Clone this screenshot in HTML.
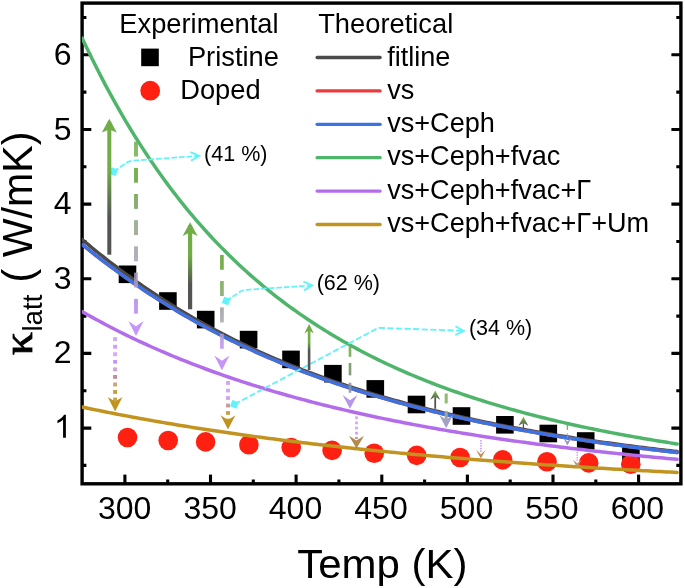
<!DOCTYPE html>
<html><head><meta charset="utf-8"><title>chart</title>
<style>html,body{margin:0;padding:0;background:#fff}body{width:685px;height:588px;position:relative;overflow:hidden;font-family:"Liberation Sans",sans-serif}</style></head>
<body>
<svg width="685" height="588" viewBox="0 0 685 588" style="position:absolute;left:0;top:0;will-change:transform">
<defs><clipPath id="pc"><rect x="81.9" y="3.1" width="604.3" height="480.7"/></clipPath>
<linearGradient id="gu0" gradientUnits="userSpaceOnUse" x1="0" y1="118.8" x2="0" y2="254.7"><stop offset="0.000" stop-color="#70ad47"/><stop offset="0.380" stop-color="#70ad47"/><stop offset="0.720" stop-color="#545454"/><stop offset="1.000" stop-color="#545454"/></linearGradient><linearGradient id="gu1" gradientUnits="userSpaceOnUse" x1="0" y1="222.2" x2="0" y2="309.3"><stop offset="0.000" stop-color="#70ad47"/><stop offset="0.380" stop-color="#70ad47"/><stop offset="0.720" stop-color="#545454"/><stop offset="1.000" stop-color="#545454"/></linearGradient><linearGradient id="gu2" gradientUnits="userSpaceOnUse" x1="0" y1="324.1" x2="0" y2="370.0"><stop offset="0.000" stop-color="#70ad47"/><stop offset="0.400" stop-color="#70ad47"/><stop offset="0.580" stop-color="#545454"/><stop offset="1.000" stop-color="#545454"/></linearGradient><linearGradient id="gu3" gradientUnits="userSpaceOnUse" x1="0" y1="390.5" x2="0" y2="408.8"><stop offset="0.000" stop-color="#70ad47"/><stop offset="0.120" stop-color="#70ad47"/><stop offset="0.500" stop-color="#545454"/><stop offset="1.000" stop-color="#545454"/></linearGradient><linearGradient id="gu4" gradientUnits="userSpaceOnUse" x1="0" y1="416.7" x2="0" y2="429.2"><stop offset="0.000" stop-color="#70ad47"/><stop offset="0.150" stop-color="#70ad47"/><stop offset="0.700" stop-color="#545454"/><stop offset="1.000" stop-color="#545454"/></linearGradient></defs>
<rect width="685" height="588" fill="#fff"/>
<g fill="#000">
<rect x="118.7" y="265.5" width="17.6" height="17.6"/>
<rect x="159.1" y="292.2" width="17.6" height="17.6"/>
<rect x="196.9" y="310.8" width="17.6" height="17.6"/>
<rect x="239.8" y="330.8" width="17.6" height="17.6"/>
<rect x="282.2" y="350.6" width="17.6" height="17.6"/>
<rect x="324.1" y="364.9" width="17.6" height="17.6"/>
<rect x="366.5" y="380.1" width="17.6" height="17.6"/>
<rect x="407.7" y="395.7" width="17.6" height="17.6"/>
<rect x="452.7" y="407.2" width="17.6" height="17.6"/>
<rect x="496.1" y="416.0" width="17.6" height="17.6"/>
<rect x="539.5" y="424.7" width="17.6" height="17.6"/>
<rect x="576.9" y="432.2" width="17.6" height="17.6"/>
<rect x="622.1" y="446.2" width="17.6" height="17.6"/>
</g><g fill="#fe2010">
<circle cx="127.5" cy="437.5" r="9.8"/>
<circle cx="168.2" cy="440.5" r="9.8"/>
<circle cx="205.6" cy="441.9" r="9.8"/>
<circle cx="248.9" cy="444.7" r="9.8"/>
<circle cx="291.2" cy="447.5" r="9.8"/>
<circle cx="332.1" cy="450.4" r="9.8"/>
<circle cx="374.2" cy="453.3" r="9.8"/>
<circle cx="416.7" cy="455.4" r="9.8"/>
<circle cx="460.1" cy="457.5" r="9.8"/>
<circle cx="502.7" cy="459.9" r="9.8"/>
<circle cx="547.0" cy="461.8" r="9.8"/>
<circle cx="588.7" cy="462.9" r="9.8"/>
<circle cx="630.8" cy="464.3" r="9.8"/>
</g>
<g stroke="#000" stroke-width="3.1" fill="none">
<path d="M82.1,465.4 h4.3 M680.9,465.4 h-4.6"/>
<path d="M82.1,428.1 h9.2 M680.9,428.1 h-9.5"/>
<path d="M82.1,390.8 h4.3 M680.9,390.8 h-4.6"/>
<path d="M82.1,353.4 h9.2 M680.9,353.4 h-9.5"/>
<path d="M82.1,316.1 h4.3 M680.9,316.1 h-4.6"/>
<path d="M82.1,278.8 h9.2 M680.9,278.8 h-9.5"/>
<path d="M82.1,241.5 h4.3 M680.9,241.5 h-4.6"/>
<path d="M82.1,204.1 h9.2 M680.9,204.1 h-9.5"/>
<path d="M82.1,166.8 h4.3 M680.9,166.8 h-4.6"/>
<path d="M82.1,129.5 h9.2 M680.9,129.5 h-9.5"/>
<path d="M82.1,92.1 h4.3 M680.9,92.1 h-4.6"/>
<path d="M82.1,54.8 h9.2 M680.9,54.8 h-9.5"/>
<path d="M82.1,17.5 h4.3 M680.9,17.5 h-4.6"/>
<path d="M124.9,483.8 v-9.2"/>
<path d="M167.7,483.8 v-4.3"/>
<path d="M210.5,483.8 v-9.2"/>
<path d="M253.3,483.8 v-4.3"/>
<path d="M296.1,483.8 v-9.2"/>
<path d="M338.9,483.8 v-4.3"/>
<path d="M381.8,483.8 v-9.2"/>
<path d="M424.6,483.8 v-4.3"/>
<path d="M467.4,483.8 v-9.2"/>
<path d="M510.2,483.8 v-4.3"/>
<path d="M553.0,483.8 v-9.2"/>
<path d="M595.8,483.8 v-4.3"/>
<path d="M638.6,483.8 v-9.2"/>
</g>
<rect x="82.1" y="3.1" width="598.8" height="480.7" fill="none" stroke="#000" stroke-width="3.4"/>
<g clip-path="url(#pc)" fill="none" stroke-width="3.5" stroke-linejoin="round" stroke-linecap="round">
<path d="M82.10,239.53 L85.50,242.38 L88.90,245.21 L92.30,248.01 L95.70,250.77 L99.10,253.51 L102.50,256.21 L105.90,258.89 L109.30,261.53 L112.70,264.15 L116.10,266.73 L119.50,269.29 L122.90,271.82 L126.30,274.31 L129.70,276.78 L133.10,279.22 L136.50,281.63 L139.90,284.01 L143.30,286.37 L146.70,288.69 L150.10,290.99 L153.50,293.26 L156.90,295.51 L160.30,297.73 L163.70,299.92 L167.10,302.08 L170.50,304.22 L173.90,306.33 L177.30,308.42 L180.70,310.48 L184.10,312.52 L187.50,314.53 L190.90,316.52 L194.30,318.48 L197.70,320.42 L201.10,322.34 L204.50,324.23 L207.90,326.10 L211.30,327.94 L214.70,329.77 L218.10,331.57 L221.50,333.35 L224.90,335.10 L228.30,336.84 L231.70,338.55 L235.10,340.25 L238.51,341.92 L241.91,343.57 L245.31,345.20 L248.71,346.81 L252.11,348.40 L255.51,349.98 L258.91,351.53 L262.31,353.06 L265.71,354.58 L269.11,356.07 L272.51,357.55 L275.91,359.01 L279.31,360.45 L282.71,361.88 L286.11,363.29 L289.51,364.68 L292.91,366.05 L296.31,367.41 L299.71,368.74 L303.11,370.07 L306.51,371.38 L309.91,372.67 L313.31,373.94 L316.71,375.20 L320.11,376.45 L323.51,377.68 L326.91,378.89 L330.31,380.09 L333.71,381.28 L337.11,382.45 L340.51,383.61 L343.91,384.75 L347.31,385.88 L350.71,387.00 L354.11,388.10 L357.51,389.19 L360.91,390.27 L364.31,391.33 L367.71,392.38 L371.11,393.42 L374.51,394.45 L377.91,395.46 L381.31,396.47 L384.71,397.46 L388.11,398.44 L391.51,399.40 L394.91,400.36 L398.31,401.30 L401.71,402.24 L405.11,403.16 L408.51,404.07 L411.91,404.97 L415.31,405.86 L418.71,406.75 L422.11,407.62 L425.51,408.48 L428.91,409.33 L432.31,410.17 L435.71,411.00 L439.11,411.82 L442.51,412.63 L445.91,413.43 L449.31,414.23 L452.71,415.01 L456.11,415.79 L459.51,416.55 L462.91,417.31 L466.31,418.06 L469.71,418.80 L473.11,419.53 L476.51,420.26 L479.91,420.97 L483.31,421.68 L486.71,422.38 L490.11,423.08 L493.51,423.76 L496.91,424.44 L500.31,425.11 L503.71,425.77 L507.11,426.42 L510.51,427.07 L513.91,427.71 L517.31,428.34 L520.71,428.97 L524.11,429.59 L527.51,430.20 L530.91,430.81 L534.31,431.41 L537.71,432.00 L541.11,432.59 L544.51,433.17 L547.92,433.74 L551.32,434.31 L554.72,434.87 L558.12,435.43 L561.52,435.97 L564.92,436.52 L568.32,437.06 L571.72,437.59 L575.12,438.11 L578.52,438.63 L581.92,439.15 L585.32,439.66 L588.72,440.16 L592.12,440.66 L595.52,441.16 L598.92,441.65 L602.32,442.13 L605.72,442.61 L609.12,443.08 L612.52,443.55 L615.92,444.01 L619.32,444.47 L622.72,444.93 L626.12,445.37 L629.52,445.82 L632.92,446.26 L636.32,446.70 L639.72,447.13 L643.12,447.55 L646.52,447.98 L649.92,448.39 L653.32,448.81 L656.72,449.22 L660.12,449.62 L663.52,450.02 L666.92,450.42 L670.32,450.81 L673.72,451.20 L677.12,451.59" stroke="#4a4a4a"/>
<path d="M82.10,244.52 L85.50,247.26 L88.90,249.98 L92.30,252.67 L95.70,255.33 L99.10,257.96 L102.50,260.56 L105.90,263.14 L109.30,265.69 L112.70,268.21 L116.10,270.71 L119.50,273.17 L122.90,275.62 L126.30,278.03 L129.70,280.42 L133.10,282.78 L136.50,285.12 L139.90,287.42 L143.30,289.71 L146.70,291.96 L150.10,294.20 L153.50,296.40 L156.90,298.58 L160.30,300.74 L163.70,302.87 L167.10,304.97 L170.50,307.06 L173.90,309.11 L177.30,311.15 L180.70,313.15 L184.10,315.14 L187.50,317.10 L190.90,319.04 L194.30,320.96 L197.70,322.85 L201.10,324.72 L204.50,326.57 L207.90,328.40 L211.30,330.21 L214.70,331.99 L218.10,333.75 L221.50,335.49 L224.90,337.21 L228.30,338.92 L231.70,340.59 L235.10,342.25 L238.51,343.89 L241.91,345.52 L245.31,347.12 L248.71,348.70 L252.11,350.26 L255.51,351.80 L258.91,353.33 L262.31,354.84 L265.71,356.33 L269.11,357.80 L272.51,359.25 L275.91,360.69 L279.31,362.11 L282.71,363.51 L286.11,364.89 L289.51,366.26 L292.91,367.61 L296.31,368.95 L299.71,370.27 L303.11,371.58 L306.51,372.86 L309.91,374.14 L313.31,375.40 L316.71,376.64 L320.11,377.87 L323.51,379.08 L326.91,380.28 L330.31,381.47 L333.71,382.64 L337.11,383.80 L340.51,384.94 L343.91,386.07 L347.31,387.19 L350.71,388.29 L354.11,389.38 L357.51,390.46 L360.91,391.52 L364.31,392.58 L367.71,393.62 L371.11,394.65 L374.51,395.66 L377.91,396.67 L381.31,397.66 L384.71,398.64 L388.11,399.61 L391.51,400.57 L394.91,401.51 L398.31,402.45 L401.71,403.38 L405.11,404.29 L408.51,405.20 L411.91,406.09 L415.31,406.97 L418.71,407.85 L422.11,408.71 L425.51,409.56 L428.91,410.41 L432.31,411.24 L435.71,412.07 L439.11,412.88 L442.51,413.69 L445.91,414.48 L449.31,415.27 L452.71,416.05 L456.11,416.82 L459.51,417.58 L462.91,418.34 L466.31,419.08 L469.71,419.82 L473.11,420.54 L476.51,421.26 L479.91,421.98 L483.31,422.68 L486.71,423.38 L490.11,424.06 L493.51,424.74 L496.91,425.42 L500.31,426.08 L503.71,426.74 L507.11,427.39 L510.51,428.04 L513.91,428.67 L517.31,429.30 L520.71,429.93 L524.11,430.54 L527.51,431.15 L530.91,431.76 L534.31,432.35 L537.71,432.94 L541.11,433.53 L544.51,434.10 L547.92,434.68 L551.32,435.24 L554.72,435.80 L558.12,436.35 L561.52,436.90 L564.92,437.44 L568.32,437.98 L571.72,438.51 L575.12,439.03 L578.52,439.55 L581.92,440.06 L585.32,440.57 L588.72,441.07 L592.12,441.57 L595.52,442.06 L598.92,442.55 L602.32,443.03 L605.72,443.51 L609.12,443.98 L612.52,444.45 L615.92,444.91 L619.32,445.37 L622.72,445.82 L626.12,446.27 L629.52,446.71 L632.92,447.15 L636.32,447.59 L639.72,448.02 L643.12,448.44 L646.52,448.86 L649.92,449.28 L653.32,449.69 L656.72,450.10 L660.12,450.51 L663.52,450.91 L666.92,451.30 L670.32,451.70 L673.72,452.08 L677.12,452.47" stroke="#ea3b3f"/>
<path d="M82.10,244.52 L85.50,247.26 L88.90,249.98 L92.30,252.67 L95.70,255.33 L99.10,257.96 L102.50,260.56 L105.90,263.14 L109.30,265.69 L112.70,268.21 L116.10,270.71 L119.50,273.17 L122.90,275.62 L126.30,278.03 L129.70,280.42 L133.10,282.78 L136.50,285.12 L139.90,287.42 L143.30,289.71 L146.70,291.96 L150.10,294.20 L153.50,296.40 L156.90,298.58 L160.30,300.74 L163.70,302.87 L167.10,304.97 L170.50,307.06 L173.90,309.11 L177.30,311.15 L180.70,313.15 L184.10,315.14 L187.50,317.10 L190.90,319.04 L194.30,320.96 L197.70,322.85 L201.10,324.72 L204.50,326.57 L207.90,328.40 L211.30,330.21 L214.70,331.99 L218.10,333.75 L221.50,335.49 L224.90,337.21 L228.30,338.92 L231.70,340.59 L235.10,342.25 L238.51,343.89 L241.91,345.52 L245.31,347.12 L248.71,348.70 L252.11,350.26 L255.51,351.80 L258.91,353.33 L262.31,354.84 L265.71,356.33 L269.11,357.80 L272.51,359.25 L275.91,360.69 L279.31,362.11 L282.71,363.51 L286.11,364.89 L289.51,366.26 L292.91,367.61 L296.31,368.95 L299.71,370.27 L303.11,371.58 L306.51,372.86 L309.91,374.14 L313.31,375.40 L316.71,376.64 L320.11,377.87 L323.51,379.08 L326.91,380.28 L330.31,381.47 L333.71,382.64 L337.11,383.80 L340.51,384.94 L343.91,386.07 L347.31,387.19 L350.71,388.29 L354.11,389.38 L357.51,390.46 L360.91,391.52 L364.31,392.58 L367.71,393.62 L371.11,394.65 L374.51,395.66 L377.91,396.67 L381.31,397.66 L384.71,398.64 L388.11,399.61 L391.51,400.57 L394.91,401.51 L398.31,402.45 L401.71,403.38 L405.11,404.29 L408.51,405.20 L411.91,406.09 L415.31,406.97 L418.71,407.85 L422.11,408.71 L425.51,409.56 L428.91,410.41 L432.31,411.24 L435.71,412.07 L439.11,412.88 L442.51,413.69 L445.91,414.48 L449.31,415.27 L452.71,416.05 L456.11,416.82 L459.51,417.58 L462.91,418.34 L466.31,419.08 L469.71,419.82 L473.11,420.54 L476.51,421.26 L479.91,421.98 L483.31,422.68 L486.71,423.38 L490.11,424.06 L493.51,424.74 L496.91,425.42 L500.31,426.08 L503.71,426.74 L507.11,427.39 L510.51,428.04 L513.91,428.67 L517.31,429.30 L520.71,429.93 L524.11,430.54 L527.51,431.15 L530.91,431.76 L534.31,432.35 L537.71,432.94 L541.11,433.53 L544.51,434.10 L547.92,434.68 L551.32,435.24 L554.72,435.80 L558.12,436.35 L561.52,436.90 L564.92,437.44 L568.32,437.98 L571.72,438.51 L575.12,439.03 L578.52,439.55 L581.92,440.06 L585.32,440.57 L588.72,441.07 L592.12,441.57 L595.52,442.06 L598.92,442.55 L602.32,443.03 L605.72,443.51 L609.12,443.98 L612.52,444.45 L615.92,444.91 L619.32,445.37 L622.72,445.82 L626.12,446.27 L629.52,446.71 L632.92,447.15 L636.32,447.59 L639.72,448.02 L643.12,448.44 L646.52,448.86 L649.92,449.28 L653.32,449.69 L656.72,450.10 L660.12,450.51 L663.52,450.91 L666.92,451.30 L670.32,451.70 L673.72,452.08 L677.12,452.47" stroke="#3c73e2"/>
<path d="M82.10,37.98 L85.50,45.21 L88.90,52.30 L92.30,59.26 L95.70,66.08 L99.10,72.78 L102.50,79.35 L105.90,85.81 L109.30,92.14 L112.70,98.35 L116.10,104.45 L119.50,110.43 L122.90,116.31 L126.30,122.08 L129.70,127.74 L133.10,133.30 L136.50,138.76 L139.90,144.11 L143.30,149.37 L146.70,154.54 L150.10,159.61 L153.50,164.59 L156.90,169.48 L160.30,174.29 L163.70,179.00 L167.10,183.64 L170.50,188.19 L173.90,192.66 L177.30,197.05 L180.70,201.36 L184.10,205.60 L187.50,209.77 L190.90,213.86 L194.30,217.88 L197.70,221.83 L201.10,225.71 L204.50,229.52 L207.90,233.27 L211.30,236.95 L214.70,240.58 L218.10,244.13 L221.50,247.63 L224.90,251.07 L228.30,254.45 L231.70,257.78 L235.10,261.04 L238.51,264.26 L241.91,267.42 L245.31,270.52 L248.71,273.58 L252.11,276.58 L255.51,279.53 L258.91,282.44 L262.31,285.30 L265.71,288.11 L269.11,290.87 L272.51,293.59 L275.91,296.27 L279.31,298.90 L282.71,301.49 L286.11,304.03 L289.51,306.54 L292.91,309.01 L296.31,311.43 L299.71,313.82 L303.11,316.17 L306.51,318.49 L309.91,320.76 L313.31,323.00 L316.71,325.21 L320.11,327.38 L323.51,329.52 L326.91,331.62 L330.31,333.69 L333.71,335.73 L337.11,337.74 L340.51,339.72 L343.91,341.67 L347.31,343.58 L350.71,345.47 L354.11,347.33 L357.51,349.16 L360.91,350.97 L364.31,352.74 L367.71,354.49 L371.11,356.21 L374.51,357.91 L377.91,359.58 L381.31,361.23 L384.71,362.86 L388.11,364.46 L391.51,366.03 L394.91,367.58 L398.31,369.11 L401.71,370.62 L405.11,372.11 L408.51,373.57 L411.91,375.01 L415.31,376.44 L418.71,377.84 L422.11,379.22 L425.51,380.58 L428.91,381.93 L432.31,383.25 L435.71,384.55 L439.11,385.84 L442.51,387.11 L445.91,388.36 L449.31,389.59 L452.71,390.81 L456.11,392.01 L459.51,393.19 L462.91,394.36 L466.31,395.50 L469.71,396.64 L473.11,397.76 L476.51,398.86 L479.91,399.95 L483.31,401.02 L486.71,402.08 L490.11,403.12 L493.51,404.16 L496.91,405.17 L500.31,406.17 L503.71,407.16 L507.11,408.14 L510.51,409.10 L513.91,410.05 L517.31,410.99 L520.71,411.92 L524.11,412.83 L527.51,413.73 L530.91,414.62 L534.31,415.50 L537.71,416.37 L541.11,417.22 L544.51,418.07 L547.92,418.90 L551.32,419.72 L554.72,420.53 L558.12,421.33 L561.52,422.13 L564.92,422.91 L568.32,423.68 L571.72,424.44 L575.12,425.19 L578.52,425.93 L581.92,426.67 L585.32,427.39 L588.72,428.11 L592.12,428.81 L595.52,429.51 L598.92,430.20 L602.32,430.88 L605.72,431.55 L609.12,432.21 L612.52,432.87 L615.92,433.52 L619.32,434.16 L622.72,434.79 L626.12,435.41 L629.52,436.03 L632.92,436.64 L636.32,437.24 L639.72,437.84 L643.12,438.42 L646.52,439.00 L649.92,439.58 L653.32,440.14 L656.72,440.70 L660.12,441.26 L663.52,441.80 L666.92,442.34 L670.32,442.88 L673.72,443.41 L677.12,443.93" stroke="#4fb56b"/>
<path d="M82.10,311.60 L85.50,313.54 L88.90,315.46 L92.30,317.35 L95.70,319.22 L99.10,321.07 L102.50,322.90 L105.90,324.70 L109.30,326.48 L112.70,328.24 L116.10,329.98 L119.50,331.70 L122.90,333.39 L126.30,335.07 L129.70,336.72 L133.10,338.36 L136.50,339.97 L139.90,341.57 L143.30,343.14 L146.70,344.70 L150.10,346.24 L153.50,347.76 L156.90,349.26 L160.30,350.74 L163.70,352.21 L167.10,353.66 L170.50,355.09 L173.90,356.50 L177.30,357.90 L180.70,359.28 L184.10,360.65 L187.50,361.99 L190.90,363.33 L194.30,364.64 L197.70,365.94 L201.10,367.23 L204.50,368.50 L207.90,369.76 L211.30,371.00 L214.70,372.23 L218.10,373.44 L221.50,374.64 L224.90,375.82 L228.30,377.00 L231.70,378.15 L235.10,379.30 L238.51,380.43 L241.91,381.55 L245.31,382.66 L248.71,383.75 L252.11,384.83 L255.51,385.90 L258.91,386.95 L262.31,388.00 L265.71,389.03 L269.11,390.05 L272.51,391.06 L275.91,392.06 L279.31,393.05 L282.71,394.03 L286.11,394.99 L289.51,395.95 L292.91,396.89 L296.31,397.82 L299.71,398.75 L303.11,399.66 L306.51,400.56 L309.91,401.46 L313.31,402.34 L316.71,403.21 L320.11,404.08 L323.51,404.93 L326.91,405.78 L330.31,406.62 L333.71,407.44 L337.11,408.26 L340.51,409.07 L343.91,409.87 L347.31,410.66 L350.71,411.45 L354.11,412.22 L357.51,412.99 L360.91,413.75 L364.31,414.50 L367.71,415.24 L371.11,415.98 L374.51,416.71 L377.91,417.43 L381.31,418.14 L384.71,418.84 L388.11,419.54 L391.51,420.23 L394.91,420.92 L398.31,421.59 L401.71,422.26 L405.11,422.92 L408.51,423.58 L411.91,424.23 L415.31,424.87 L418.71,425.50 L422.11,426.13 L425.51,426.75 L428.91,427.37 L432.31,427.98 L435.71,428.58 L439.11,429.18 L442.51,429.77 L445.91,430.36 L449.31,430.94 L452.71,431.51 L456.11,432.08 L459.51,432.64 L462.91,433.20 L466.31,433.75 L469.71,434.29 L473.11,434.83 L476.51,435.37 L479.91,435.90 L483.31,436.42 L486.71,436.94 L490.11,437.46 L493.51,437.96 L496.91,438.47 L500.31,438.97 L503.71,439.46 L507.11,439.95 L510.51,440.44 L513.91,440.92 L517.31,441.39 L520.71,441.86 L524.11,442.33 L527.51,442.79 L530.91,443.25 L534.31,443.70 L537.71,444.15 L541.11,444.59 L544.51,445.03 L547.92,445.47 L551.32,445.90 L554.72,446.33 L558.12,446.75 L561.52,447.17 L564.92,447.59 L568.32,448.00 L571.72,448.40 L575.12,448.81 L578.52,449.21 L581.92,449.61 L585.32,450.00 L588.72,450.39 L592.12,450.77 L595.52,451.16 L598.92,451.53 L602.32,451.91 L605.72,452.28 L609.12,452.65 L612.52,453.01 L615.92,453.37 L619.32,453.73 L622.72,454.09 L626.12,454.44 L629.52,454.79 L632.92,455.13 L636.32,455.48 L639.72,455.81 L643.12,456.15 L646.52,456.48 L649.92,456.81 L653.32,457.14 L656.72,457.46 L660.12,457.79 L663.52,458.10 L666.92,458.42 L670.32,458.73 L673.72,459.04 L677.12,459.35" stroke="#b46dea"/>
<path d="M82.10,407.07 L85.50,407.79 L88.90,408.50 L92.30,409.20 L95.70,409.90 L99.10,410.59 L102.50,411.27 L105.90,411.95 L109.30,412.63 L112.70,413.29 L116.10,413.95 L119.50,414.61 L122.90,415.26 L126.30,415.90 L129.70,416.54 L133.10,417.17 L136.50,417.80 L139.90,418.42 L143.30,419.04 L146.70,419.65 L150.10,420.26 L153.50,420.86 L156.90,421.45 L160.30,422.04 L163.70,422.62 L167.10,423.20 L170.50,423.78 L173.90,424.35 L177.30,424.91 L180.70,425.47 L184.10,426.02 L187.50,426.57 L190.90,427.12 L194.30,427.66 L197.70,428.19 L201.10,428.72 L204.50,429.25 L207.90,429.77 L211.30,430.29 L214.70,430.80 L218.10,431.31 L221.50,431.81 L224.90,432.31 L228.30,432.80 L231.70,433.29 L235.10,433.78 L238.51,434.26 L241.91,434.74 L245.31,435.21 L248.71,435.68 L252.11,436.15 L255.51,436.61 L258.91,437.07 L262.31,437.52 L265.71,437.97 L269.11,438.42 L272.51,438.86 L275.91,439.30 L279.31,439.73 L282.71,440.17 L286.11,440.59 L289.51,441.02 L292.91,441.44 L296.31,441.85 L299.71,442.27 L303.11,442.68 L306.51,443.08 L309.91,443.49 L313.31,443.89 L316.71,444.28 L320.11,444.67 L323.51,445.06 L326.91,445.45 L330.31,445.83 L333.71,446.21 L337.11,446.59 L340.51,446.96 L343.91,447.33 L347.31,447.70 L350.71,448.07 L354.11,448.43 L357.51,448.79 L360.91,449.14 L364.31,449.49 L367.71,449.84 L371.11,450.19 L374.51,450.53 L377.91,450.88 L381.31,451.21 L384.71,451.55 L388.11,451.88 L391.51,452.21 L394.91,452.54 L398.31,452.87 L401.71,453.19 L405.11,453.51 L408.51,453.82 L411.91,454.14 L415.31,454.45 L418.71,454.76 L422.11,455.07 L425.51,455.37 L428.91,455.67 L432.31,455.97 L435.71,456.27 L439.11,456.57 L442.51,456.86 L445.91,457.15 L449.31,457.44 L452.71,457.72 L456.11,458.01 L459.51,458.29 L462.91,458.57 L466.31,458.84 L469.71,459.12 L473.11,459.39 L476.51,459.66 L479.91,459.93 L483.31,460.20 L486.71,460.46 L490.11,460.72 L493.51,460.98 L496.91,461.24 L500.31,461.50 L503.71,461.75 L507.11,462.00 L510.51,462.25 L513.91,462.50 L517.31,462.75 L520.71,462.99 L524.11,463.23 L527.51,463.47 L530.91,463.71 L534.31,463.95 L537.71,464.19 L541.11,464.42 L544.51,464.65 L547.92,464.88 L551.32,465.11 L554.72,465.34 L558.12,465.56 L561.52,465.78 L564.92,466.00 L568.32,466.22 L571.72,466.44 L575.12,466.66 L578.52,466.87 L581.92,467.09 L585.32,467.30 L588.72,467.51 L592.12,467.72 L595.52,467.92 L598.92,468.13 L602.32,468.33 L605.72,468.54 L609.12,468.74 L612.52,468.94 L615.92,469.13 L619.32,469.33 L622.72,469.53 L626.12,469.72 L629.52,469.91 L632.92,470.10 L636.32,470.29 L639.72,470.48 L643.12,470.67 L646.52,470.85 L649.92,471.04 L653.32,471.22 L656.72,471.40 L660.12,471.58 L663.52,471.76 L666.92,471.94 L670.32,472.11 L673.72,472.29 L677.12,472.46" stroke="#c2941f"/>
</g>
<g fill="none" stroke="#62f2fa" stroke-width="1.75" stroke-dasharray="5.7 1.9">
<path d="M113.7,171.6 L126,163 Q129.5,160.9 134,160.6 L199,155.9"/>
<path d="M226.2,301 L240.5,291.5 Q243.5,290 247,289.8 L311.5,285.5"/>
<path d="M234.4,404.3 L378.3,327.8 L463,330.8" stroke-width="1.85" stroke-dasharray="6.2 2.4"/>
</g>
<rect x="110.3" y="168.2" width="6.8" height="6.8" fill="#62f2fa" transform="rotate(20 113.7 171.6)"/>
<rect x="222.8" y="297.6" width="6.8" height="6.8" fill="#62f2fa" transform="rotate(20 226.2 301.0)"/>
<rect x="231.0" y="400.9" width="6.8" height="6.8" fill="#62f2fa" transform="rotate(20 234.4 404.3)"/>
<path d="M190.7,151.4 L199.2,155.8 L190.7,160.2" fill="none" stroke="#62f2fa" stroke-width="1.9" transform="rotate(-4.0 199.2 155.8)"/>
<path d="M303.7,281.0 L312.2,285.4 L303.7,289.8" fill="none" stroke="#62f2fa" stroke-width="1.9" transform="rotate(-4.0 312.2 285.4)"/>
<path d="M455.3,326.5 L463.8,330.9 L455.3,335.3" fill="none" stroke="#62f2fa" stroke-width="1.9" transform="rotate(2.0 463.8 330.9)"/>
<rect x="107.30" y="121.8" width="4.00" height="132.9" fill="url(#gu0)"/>
<path d="M109.3,118.8 L101.8,132.5 L109.3,129.5 L116.8,132.5 Z" fill="url(#gu0)"/>
<rect x="188.00" y="225.2" width="4.20" height="84.1" fill="url(#gu1)"/>
<path d="M190.1,222.2 L182.6,236.0 L190.1,232.5 L197.6,236.0 Z" fill="url(#gu1)"/>
<rect x="307.80" y="327.1" width="2.60" height="42.9" fill="url(#gu2)"/>
<path d="M309.1,324.1 L304.3,333.5 L309.1,330.6 L313.9,333.5 Z" fill="url(#gu2)"/>
<rect x="434.30" y="393.5" width="1.80" height="15.3" fill="url(#gu3)"/>
<path d="M435.2,390.5 L430.2,399.8 L435.2,396.8 L440.2,399.8 Z" fill="url(#gu3)"/>
<rect x="522.75" y="419.7" width="1.30" height="9.5" fill="url(#gu4)"/>
<path d="M523.4,416.7 L518.5,425.8 L523.4,423.0 L528.3,425.8 Z" fill="url(#gu4)"/>
<rect x="134.05" y="141.70" width="3.90" height="1.05" fill="#70ad47"/><rect x="134.05" y="142.70" width="3.90" height="1.05" fill="#70ad47"/><rect x="134.05" y="143.70" width="3.90" height="1.05" fill="#70ad47"/><rect x="134.05" y="144.70" width="3.90" height="1.05" fill="#70ad47"/><rect x="134.05" y="145.70" width="3.90" height="1.05" fill="#70ad47"/><rect x="134.05" y="146.70" width="3.90" height="1.05" fill="#70ad47"/><rect x="134.05" y="147.70" width="3.90" height="1.05" fill="#70ad47"/><rect x="134.05" y="148.70" width="3.90" height="1.05" fill="#70ad47"/><rect x="134.05" y="149.70" width="3.90" height="1.05" fill="#70ad47"/><rect x="134.05" y="150.70" width="3.90" height="1.05" fill="#70ad47"/><rect x="134.05" y="151.70" width="3.90" height="1.05" fill="#70ad47"/><rect x="134.05" y="152.70" width="3.90" height="1.05" fill="#70ad47"/><rect x="134.05" y="153.70" width="3.90" height="1.05" fill="#70ad47"/><rect x="134.05" y="154.70" width="3.90" height="1.05" fill="#70ad47"/><rect x="134.05" y="155.70" width="3.90" height="0.75" fill="#70ad47"/><rect x="134.05" y="167.90" width="3.90" height="1.05" fill="#70ad47"/><rect x="134.05" y="168.90" width="3.90" height="1.05" fill="#70ad47"/><rect x="134.05" y="169.90" width="3.90" height="1.05" fill="#70ad47"/><rect x="134.05" y="170.90" width="3.90" height="1.05" fill="#70ad47"/><rect x="134.05" y="171.90" width="3.90" height="1.05" fill="#70ad47"/><rect x="134.05" y="172.90" width="3.90" height="1.05" fill="#70ad47"/><rect x="134.05" y="173.90" width="3.90" height="1.05" fill="#70ad47"/><rect x="134.05" y="174.90" width="3.90" height="1.05" fill="#70ad47"/><rect x="134.05" y="175.90" width="3.90" height="1.05" fill="#70ad47"/><rect x="134.05" y="176.90" width="3.90" height="1.05" fill="#70ad47"/><rect x="134.05" y="177.90" width="3.90" height="1.05" fill="#70ad47"/><rect x="134.05" y="178.90" width="3.90" height="1.05" fill="#70ad47"/><rect x="134.05" y="179.90" width="3.90" height="1.05" fill="#70ad47"/><rect x="134.05" y="180.90" width="3.90" height="1.05" fill="#70ad47"/><rect x="134.05" y="181.90" width="3.90" height="0.75" fill="#70ad47"/><rect x="134.05" y="194.10" width="3.90" height="1.05" fill="#76a954"/><rect x="134.05" y="195.10" width="3.90" height="1.05" fill="#77a955"/><rect x="134.05" y="196.10" width="3.90" height="1.05" fill="#77a956"/><rect x="134.05" y="197.10" width="3.90" height="1.05" fill="#78a858"/><rect x="134.05" y="198.10" width="3.90" height="1.05" fill="#79a859"/><rect x="134.05" y="199.10" width="3.90" height="1.05" fill="#79a75a"/><rect x="134.05" y="200.10" width="3.90" height="1.05" fill="#7aa75c"/><rect x="134.05" y="201.10" width="3.90" height="1.05" fill="#7ba75d"/><rect x="134.05" y="202.10" width="3.90" height="1.05" fill="#7ba65e"/><rect x="134.05" y="203.10" width="3.90" height="1.05" fill="#7ca660"/><rect x="134.05" y="204.10" width="3.90" height="1.05" fill="#7ca561"/><rect x="134.05" y="205.10" width="3.90" height="1.05" fill="#7da562"/><rect x="134.05" y="206.10" width="3.90" height="1.05" fill="#7ea563"/><rect x="134.05" y="207.10" width="3.90" height="1.05" fill="#7ea465"/><rect x="134.05" y="208.10" width="3.90" height="0.75" fill="#7fa466"/><rect x="134.05" y="220.30" width="3.90" height="1.05" fill="#879f76"/><rect x="134.05" y="221.30" width="3.90" height="1.05" fill="#879f77"/><rect x="134.05" y="222.30" width="3.90" height="1.05" fill="#889f79"/><rect x="134.05" y="223.30" width="3.90" height="1.05" fill="#899e7a"/><rect x="134.05" y="224.30" width="3.90" height="1.05" fill="#899e7b"/><rect x="134.05" y="225.30" width="3.90" height="1.05" fill="#8a9d7d"/><rect x="134.05" y="226.30" width="3.90" height="1.05" fill="#8a9d7e"/><rect x="134.05" y="227.30" width="3.90" height="1.05" fill="#8b9d7f"/><rect x="134.05" y="228.30" width="3.90" height="1.05" fill="#8c9c81"/><rect x="134.05" y="229.30" width="3.90" height="1.05" fill="#8c9c82"/><rect x="134.05" y="230.30" width="3.90" height="1.05" fill="#8d9b83"/><rect x="134.05" y="231.30" width="3.90" height="1.05" fill="#8e9b84"/><rect x="134.05" y="232.30" width="3.90" height="1.05" fill="#8e9b86"/><rect x="134.05" y="233.30" width="3.90" height="1.05" fill="#8f9a87"/><rect x="134.05" y="234.30" width="3.90" height="0.75" fill="#8f9a88"/><rect x="134.05" y="246.50" width="3.90" height="1.05" fill="#979798"/><rect x="134.05" y="247.50" width="3.90" height="1.05" fill="#98979a"/><rect x="134.05" y="248.50" width="3.90" height="1.05" fill="#98979b"/><rect x="134.05" y="249.50" width="3.90" height="1.05" fill="#99979c"/><rect x="134.05" y="250.50" width="3.90" height="1.05" fill="#99989e"/><rect x="134.05" y="251.50" width="3.90" height="1.05" fill="#9a989f"/><rect x="134.05" y="252.50" width="3.90" height="1.05" fill="#9b98a0"/><rect x="134.05" y="253.50" width="3.90" height="1.05" fill="#9b99a1"/><rect x="134.05" y="254.50" width="3.90" height="1.05" fill="#9c99a3"/><rect x="134.05" y="255.50" width="3.90" height="1.05" fill="#9c99a4"/><rect x="134.05" y="256.50" width="3.90" height="1.05" fill="#9d99a5"/><rect x="134.05" y="257.50" width="3.90" height="1.05" fill="#9d9aa7"/><rect x="134.05" y="258.50" width="3.90" height="1.05" fill="#9e9aa8"/><rect x="134.05" y="259.50" width="3.90" height="1.05" fill="#9f9aa9"/><rect x="134.05" y="260.50" width="3.90" height="0.75" fill="#9f9baa"/><rect x="134.05" y="272.70" width="3.90" height="1.05" fill="#a69ebb"/><rect x="134.05" y="273.70" width="3.90" height="1.05" fill="#a79ebc"/><rect x="134.05" y="274.70" width="3.90" height="1.05" fill="#a79fbd"/><rect x="134.05" y="275.70" width="3.90" height="1.05" fill="#a89fbe"/><rect x="134.05" y="276.70" width="3.90" height="1.05" fill="#a99fc0"/><rect x="134.05" y="277.70" width="3.90" height="1.05" fill="#a9a0c1"/><rect x="134.05" y="278.70" width="3.90" height="1.05" fill="#aaa0c2"/><rect x="134.05" y="279.70" width="3.90" height="1.05" fill="#aaa0c4"/><rect x="134.05" y="280.70" width="3.90" height="1.05" fill="#aba0c5"/><rect x="134.05" y="281.70" width="3.90" height="1.05" fill="#ac9fc7"/><rect x="134.05" y="282.70" width="3.90" height="1.05" fill="#ad9fc9"/><rect x="134.05" y="283.70" width="3.90" height="1.05" fill="#ae9fca"/><rect x="134.05" y="284.70" width="3.90" height="1.05" fill="#ae9ecc"/><rect x="134.05" y="285.70" width="3.90" height="1.05" fill="#af9ecd"/><rect x="134.05" y="286.70" width="3.90" height="0.75" fill="#b09ecf"/><rect x="134.05" y="298.90" width="3.90" height="1.05" fill="#b99ae2"/><rect x="134.05" y="299.90" width="3.90" height="1.05" fill="#ba9ae4"/><rect x="134.05" y="300.90" width="3.90" height="1.05" fill="#bb9ae6"/><rect x="134.05" y="301.90" width="3.90" height="1.05" fill="#bc99e7"/><rect x="134.05" y="302.90" width="3.90" height="1.05" fill="#bd99e9"/><rect x="134.05" y="303.90" width="3.90" height="1.05" fill="#bd99ea"/><rect x="134.05" y="304.90" width="3.90" height="1.05" fill="#be99ec"/><rect x="134.05" y="305.90" width="3.90" height="1.05" fill="#bf98ee"/><rect x="134.05" y="306.90" width="3.90" height="1.05" fill="#c098ef"/><rect x="134.05" y="307.90" width="3.90" height="1.05" fill="#c098f1"/><rect x="134.05" y="308.90" width="3.90" height="1.05" fill="#c197f2"/><rect x="134.05" y="309.90" width="3.90" height="1.05" fill="#c297f4"/><rect x="134.05" y="310.90" width="3.90" height="1.05" fill="#c397f6"/><rect x="134.05" y="311.90" width="3.90" height="1.05" fill="#c497f7"/><rect x="134.05" y="312.90" width="3.90" height="0.75" fill="#c496f8"/>
<path d="M136.0,335.9 L128.4,321.1 L136.0,326.2 L143.6,321.1 Z" fill="#c596fa"/>
<rect x="220.05" y="254.90" width="3.70" height="1.05" fill="#70ad47"/><rect x="220.05" y="255.90" width="3.70" height="1.05" fill="#70ad47"/><rect x="220.05" y="256.90" width="3.70" height="1.05" fill="#70ad47"/><rect x="220.05" y="257.90" width="3.70" height="1.05" fill="#70ad47"/><rect x="220.05" y="258.90" width="3.70" height="1.05" fill="#70ad47"/><rect x="220.05" y="259.90" width="3.70" height="1.05" fill="#70ad47"/><rect x="220.05" y="260.90" width="3.70" height="1.05" fill="#70ad47"/><rect x="220.05" y="261.90" width="3.70" height="1.05" fill="#70ad47"/><rect x="220.05" y="262.90" width="3.70" height="1.05" fill="#70ad47"/><rect x="220.05" y="263.90" width="3.70" height="1.05" fill="#70ad47"/><rect x="220.05" y="264.90" width="3.70" height="1.05" fill="#70ad47"/><rect x="220.05" y="265.90" width="3.70" height="1.05" fill="#70ad47"/><rect x="220.05" y="266.90" width="3.70" height="1.05" fill="#70ad47"/><rect x="220.05" y="267.90" width="3.70" height="1.05" fill="#70ad47"/><rect x="220.05" y="268.90" width="3.70" height="0.85" fill="#70ad47"/><rect x="220.05" y="281.20" width="3.70" height="1.05" fill="#74ab4f"/><rect x="220.05" y="282.20" width="3.70" height="1.05" fill="#75aa51"/><rect x="220.05" y="283.20" width="3.70" height="1.05" fill="#76a954"/><rect x="220.05" y="284.20" width="3.70" height="1.05" fill="#77a956"/><rect x="220.05" y="285.20" width="3.70" height="1.05" fill="#78a858"/><rect x="220.05" y="286.20" width="3.70" height="1.05" fill="#7aa75b"/><rect x="220.05" y="287.20" width="3.70" height="1.05" fill="#7ba75d"/><rect x="220.05" y="288.20" width="3.70" height="1.05" fill="#7ca660"/><rect x="220.05" y="289.20" width="3.70" height="1.05" fill="#7da562"/><rect x="220.05" y="290.20" width="3.70" height="1.05" fill="#7ea464"/><rect x="220.05" y="291.20" width="3.70" height="1.05" fill="#7fa467"/><rect x="220.05" y="292.20" width="3.70" height="1.05" fill="#80a369"/><rect x="220.05" y="293.20" width="3.70" height="1.05" fill="#82a26c"/><rect x="220.05" y="294.20" width="3.70" height="1.05" fill="#83a26e"/><rect x="220.05" y="295.20" width="3.70" height="0.85" fill="#84a170"/><rect x="220.05" y="307.50" width="3.70" height="1.05" fill="#92988e"/><rect x="220.05" y="308.50" width="3.70" height="1.05" fill="#939890"/><rect x="220.05" y="309.50" width="3.70" height="1.05" fill="#949793"/><rect x="220.05" y="310.50" width="3.70" height="1.05" fill="#969695"/><rect x="220.05" y="311.50" width="3.70" height="1.05" fill="#979698"/><rect x="220.05" y="312.50" width="3.70" height="1.05" fill="#98979a"/><rect x="220.05" y="313.50" width="3.70" height="1.05" fill="#99979c"/><rect x="220.05" y="314.50" width="3.70" height="1.05" fill="#9a989f"/><rect x="220.05" y="315.50" width="3.70" height="1.05" fill="#9b98a1"/><rect x="220.05" y="316.50" width="3.70" height="1.05" fill="#9c99a3"/><rect x="220.05" y="317.50" width="3.70" height="1.05" fill="#9d9aa6"/><rect x="220.05" y="318.50" width="3.70" height="1.05" fill="#9e9aa8"/><rect x="220.05" y="319.50" width="3.70" height="1.05" fill="#9f9bab"/><rect x="220.05" y="320.50" width="3.70" height="1.05" fill="#a09bad"/><rect x="220.05" y="321.50" width="3.70" height="0.85" fill="#a19caf"/><rect x="220.05" y="333.80" width="3.70" height="1.05" fill="#b09ecf"/><rect x="220.05" y="334.80" width="3.70" height="1.05" fill="#b19dd2"/><rect x="220.05" y="335.80" width="3.70" height="1.05" fill="#b39dd5"/><rect x="220.05" y="336.80" width="3.70" height="1.05" fill="#b49cd8"/><rect x="220.05" y="337.80" width="3.70" height="1.05" fill="#b69cdb"/><rect x="220.05" y="338.80" width="3.70" height="1.05" fill="#b79bde"/><rect x="220.05" y="339.80" width="3.70" height="1.05" fill="#b99be1"/><rect x="220.05" y="340.80" width="3.70" height="1.05" fill="#ba9ae3"/><rect x="220.05" y="341.80" width="3.70" height="1.05" fill="#bb9ae6"/><rect x="220.05" y="342.80" width="3.70" height="1.05" fill="#bd99e9"/><rect x="220.05" y="343.80" width="3.70" height="1.05" fill="#be98ec"/><rect x="220.05" y="344.80" width="3.70" height="1.05" fill="#c098ef"/><rect x="220.05" y="345.80" width="3.70" height="1.05" fill="#c197f2"/><rect x="220.05" y="346.80" width="3.70" height="1.05" fill="#c397f5"/><rect x="220.05" y="347.80" width="3.70" height="0.85" fill="#c496f8"/>
<path d="M221.9,370.3 L214.3,355.6 L221.9,360.8 L229.5,355.6 Z" fill="#c596fa"/>
<rect x="348.70" y="346.80" width="2.60" height="1.05" fill="#70ad47"/><rect x="348.70" y="347.80" width="2.60" height="1.05" fill="#70ad47"/><rect x="348.70" y="348.80" width="2.60" height="1.05" fill="#70ad47"/><rect x="348.70" y="349.80" width="2.60" height="1.05" fill="#70ad47"/><rect x="348.70" y="350.80" width="2.60" height="1.05" fill="#70ad47"/><rect x="348.70" y="351.80" width="2.60" height="1.05" fill="#70ad47"/><rect x="348.70" y="352.80" width="2.60" height="1.05" fill="#70ad47"/><rect x="348.70" y="353.80" width="2.60" height="1.05" fill="#70ad47"/><rect x="348.70" y="354.80" width="2.60" height="1.05" fill="#70ad47"/><rect x="348.70" y="355.80" width="2.60" height="0.95" fill="#70ad47"/>
<rect x="348.70" y="362.90" width="2.60" height="1.05" fill="#76a659"/><rect x="348.70" y="363.90" width="2.60" height="1.05" fill="#77a45c"/><rect x="348.70" y="364.90" width="2.60" height="1.05" fill="#79a360"/><rect x="348.70" y="365.90" width="2.60" height="1.05" fill="#7aa163"/><rect x="348.70" y="366.90" width="2.60" height="1.05" fill="#7ba066"/><rect x="348.70" y="367.90" width="2.60" height="1.05" fill="#7c9e6a"/><rect x="348.70" y="368.90" width="2.60" height="1.05" fill="#7e9d6d"/><rect x="348.70" y="369.90" width="2.60" height="1.05" fill="#7f9c71"/><rect x="348.70" y="370.90" width="2.60" height="1.05" fill="#809a74"/><rect x="348.70" y="371.90" width="2.60" height="1.05" fill="#819978"/><rect x="348.70" y="372.90" width="2.60" height="1.05" fill="#82977b"/><rect x="348.70" y="373.90" width="2.60" height="1.05" fill="#84967f"/><rect x="348.70" y="374.90" width="2.60" height="0.45" fill="#859581"/>
<rect x="348.70" y="382.80" width="2.60" height="1.05" fill="#8e8e99"/><rect x="348.70" y="383.80" width="2.60" height="1.05" fill="#8f8f9a"/><rect x="348.70" y="384.80" width="2.60" height="1.05" fill="#90909b"/><rect x="348.70" y="385.80" width="2.60" height="1.05" fill="#90909d"/><rect x="348.70" y="386.80" width="2.60" height="1.05" fill="#91919e"/><rect x="348.70" y="387.80" width="2.60" height="1.05" fill="#92929f"/><rect x="348.70" y="388.80" width="2.60" height="1.05" fill="#9393a1"/><rect x="348.70" y="389.80" width="2.60" height="1.05" fill="#9494a2"/><rect x="348.70" y="390.80" width="2.60" height="1.05" fill="#9595a3"/><rect x="348.70" y="391.80" width="2.60" height="0.95" fill="#9696a4"/>
<path d="M350.0,408.7 L342.6,395.0 L350.0,400.2 L357.4,395.0 Z" fill="#b696e8"/>
<rect x="444.75" y="393.60" width="2.90" height="1.05" fill="#70ad47"/><rect x="444.75" y="394.60" width="2.90" height="1.05" fill="#70ad47"/><rect x="444.75" y="395.60" width="2.90" height="1.05" fill="#70ad47"/><rect x="444.75" y="396.60" width="2.90" height="1.05" fill="#70ad47"/><rect x="444.75" y="397.60" width="2.90" height="1.05" fill="#70ad47"/><rect x="444.75" y="398.60" width="2.90" height="1.05" fill="#70ad47"/><rect x="444.75" y="399.60" width="2.90" height="1.05" fill="#70ad47"/><rect x="444.75" y="400.60" width="2.90" height="1.05" fill="#70ad47"/><rect x="444.75" y="401.60" width="2.90" height="1.05" fill="#70ad47"/><rect x="444.75" y="402.60" width="2.90" height="0.75" fill="#70ad47"/>
<rect x="444.70" y="411.00" width="3.00" height="1.05" fill="#97ab8f"/><rect x="444.70" y="412.00" width="3.00" height="1.05" fill="#98aa94"/><rect x="444.70" y="413.00" width="3.00" height="1.05" fill="#99a99a"/><rect x="444.70" y="414.00" width="3.00" height="1.05" fill="#9aa79f"/><rect x="444.70" y="415.00" width="3.00" height="1.05" fill="#9ba6a5"/><rect x="444.70" y="416.00" width="3.00" height="1.05" fill="#9ca5ab"/><rect x="444.70" y="417.00" width="3.00" height="1.05" fill="#9da3b0"/><rect x="444.70" y="418.00" width="3.00" height="1.05" fill="#9ea2b6"/><rect x="444.70" y="419.00" width="3.00" height="1.05" fill="#9fa1bb"/>
<path d="M446.2,428.3 L439.4,415.3 L446.2,419.6 L453.0,415.3 Z" fill="#a5a0c6"/>
<rect x="566.75" y="425.10" width="1.30" height="1.05" fill="#70ad47"/><rect x="566.75" y="426.10" width="1.30" height="1.05" fill="#70ad47"/><rect x="566.75" y="427.10" width="1.30" height="1.05" fill="#70ad47"/><rect x="566.75" y="428.10" width="1.30" height="1.05" fill="#70ad47"/><rect x="566.75" y="429.10" width="1.30" height="0.85" fill="#70ad47"/>
<rect x="566.75" y="433.50" width="1.30" height="1.05" fill="#83a367"/><rect x="566.75" y="434.50" width="1.30" height="1.05" fill="#85a06d"/><rect x="566.75" y="435.50" width="1.30" height="1.05" fill="#879d74"/><rect x="566.75" y="436.50" width="1.30" height="1.05" fill="#899a7a"/><rect x="566.75" y="437.50" width="1.30" height="0.85" fill="#8b977f"/>
<path d="M567.4,445.6 L563.1,437.5 L567.4,441.4 L571.7,437.5 Z" fill="#9896ba"/>
<rect x="113.15" y="337.30" width="3.90" height="1.05" fill="#c596fa"/><rect x="113.15" y="338.30" width="3.90" height="1.05" fill="#c596fa"/><rect x="113.15" y="339.30" width="3.90" height="1.05" fill="#c596fa"/><rect x="113.15" y="340.30" width="3.90" height="0.75" fill="#c596fa"/><rect x="113.15" y="344.85" width="3.90" height="1.05" fill="#c596fa"/><rect x="113.15" y="345.85" width="3.90" height="1.05" fill="#c596fa"/><rect x="113.15" y="346.85" width="3.90" height="1.05" fill="#c596fa"/><rect x="113.15" y="347.85" width="3.90" height="0.75" fill="#c596fa"/><rect x="113.15" y="352.40" width="3.90" height="1.05" fill="#c596fa"/><rect x="113.15" y="353.40" width="3.90" height="1.05" fill="#c596fa"/><rect x="113.15" y="354.40" width="3.90" height="1.05" fill="#c596fa"/><rect x="113.15" y="355.40" width="3.90" height="0.75" fill="#c596fa"/><rect x="113.15" y="359.95" width="3.90" height="1.05" fill="#c596fa"/><rect x="113.15" y="360.95" width="3.90" height="1.05" fill="#c596fa"/><rect x="113.15" y="361.95" width="3.90" height="1.05" fill="#c596fa"/><rect x="113.15" y="362.95" width="3.90" height="0.75" fill="#c596f9"/><rect x="113.15" y="367.50" width="3.90" height="1.05" fill="#c38fd5"/><rect x="113.15" y="368.50" width="3.90" height="1.05" fill="#c38dcd"/><rect x="113.15" y="369.50" width="3.90" height="1.05" fill="#c28bc5"/><rect x="113.15" y="370.50" width="3.90" height="0.75" fill="#c28abf"/><rect x="113.15" y="375.05" width="3.90" height="1.05" fill="#c0859b"/><rect x="113.15" y="376.05" width="3.90" height="1.05" fill="#c08694"/><rect x="113.15" y="377.05" width="3.90" height="1.05" fill="#c0868c"/><rect x="113.15" y="378.05" width="3.90" height="0.75" fill="#c08786"/><rect x="113.15" y="382.60" width="3.90" height="1.05" fill="#c08b65"/><rect x="113.15" y="383.60" width="3.90" height="1.05" fill="#c08c5d"/><rect x="113.15" y="384.60" width="3.90" height="1.05" fill="#c08d55"/><rect x="113.15" y="385.60" width="3.90" height="0.75" fill="#c08e4e"/><rect x="113.15" y="390.15" width="3.90" height="1.05" fill="#bf9226"/><rect x="113.15" y="391.15" width="3.90" height="1.05" fill="#bf931e"/><rect x="113.15" y="392.15" width="3.90" height="1.05" fill="#bf931e"/><rect x="113.15" y="393.15" width="3.90" height="0.75" fill="#bf931e"/><rect x="113.15" y="397.70" width="3.90" height="1.05" fill="#bf931e"/><rect x="113.15" y="398.70" width="3.90" height="1.05" fill="#bf931e"/><rect x="113.15" y="399.70" width="3.90" height="1.05" fill="#bf931e"/><rect x="113.15" y="400.70" width="3.90" height="0.75" fill="#bf931e"/>
<path d="M115.1,411.4 L107.7,397.0 L115.1,401.6 L122.5,397.0 Z" fill="#bf931e"/>
<rect x="226.05" y="381.20" width="3.90" height="1.05" fill="#c596fa"/><rect x="226.05" y="382.20" width="3.90" height="1.05" fill="#c596fa"/><rect x="226.05" y="383.20" width="3.90" height="1.05" fill="#c596fa"/><rect x="226.05" y="384.20" width="3.90" height="0.65" fill="#c596fa"/><rect x="226.05" y="388.70" width="3.90" height="1.05" fill="#c596fa"/><rect x="226.05" y="389.70" width="3.90" height="1.05" fill="#c596fa"/><rect x="226.05" y="390.70" width="3.90" height="1.05" fill="#c596fa"/><rect x="226.05" y="391.70" width="3.90" height="0.65" fill="#c596fa"/><rect x="226.05" y="396.20" width="3.90" height="1.05" fill="#c596fa"/><rect x="226.05" y="397.20" width="3.90" height="1.05" fill="#c493ed"/><rect x="226.05" y="398.20" width="3.90" height="1.05" fill="#c491e0"/><rect x="226.05" y="399.20" width="3.90" height="0.65" fill="#c38fd6"/><rect x="226.05" y="403.70" width="3.90" height="1.05" fill="#c0859a"/><rect x="226.05" y="404.70" width="3.90" height="1.05" fill="#c0868e"/><rect x="226.05" y="405.70" width="3.90" height="1.05" fill="#c08882"/><rect x="226.05" y="406.70" width="3.90" height="0.65" fill="#c08979"/><rect x="226.05" y="411.20" width="3.90" height="1.05" fill="#bf903b"/><rect x="226.05" y="412.20" width="3.90" height="1.05" fill="#bf912d"/><rect x="226.05" y="413.20" width="3.90" height="1.05" fill="#bf931f"/><rect x="226.05" y="414.20" width="3.90" height="0.65" fill="#bf931e"/><rect x="226.05" y="418.70" width="3.90" height="1.05" fill="#bf931e"/><rect x="226.05" y="419.70" width="3.90" height="0.35" fill="#bf931e"/>
<path d="M228.0,429.4 L220.6,415.3 L228.0,420.0 L235.4,415.3 Z" fill="#bf931e"/>
<rect x="355.10" y="416.50" width="2.80" height="1.05" fill="#c596fa"/><rect x="355.10" y="417.50" width="2.80" height="1.05" fill="#c596fa"/><rect x="355.10" y="418.50" width="2.80" height="0.65" fill="#c596fa"/><rect x="355.10" y="421.60" width="2.80" height="1.05" fill="#c596fa"/><rect x="355.10" y="422.60" width="2.80" height="1.05" fill="#c596fa"/><rect x="355.10" y="423.60" width="2.80" height="0.65" fill="#c596fa"/><rect x="355.10" y="426.70" width="2.80" height="1.05" fill="#c596fa"/><rect x="355.10" y="427.70" width="2.80" height="1.05" fill="#c596fa"/><rect x="355.10" y="428.70" width="2.80" height="0.65" fill="#c596fa"/><rect x="355.10" y="431.80" width="2.80" height="1.05" fill="#c596f9"/><rect x="355.10" y="432.80" width="2.80" height="1.05" fill="#c594ee"/><rect x="355.10" y="433.80" width="2.80" height="0.65" fill="#c493e4"/><rect x="355.10" y="436.90" width="2.80" height="1.05" fill="#c38ebd"/><rect x="355.10" y="437.90" width="2.80" height="1.05" fill="#c38db1"/><rect x="355.10" y="438.90" width="2.80" height="0.15" fill="#c38cab"/>
<path d="M356.5,448.6 L349.0,435.8 L356.5,440.6 L364.0,435.8 Z" fill="#b48a4c"/>
<rect x="480.05" y="440.20" width="1.70" height="1.05" fill="#c596fa"/><rect x="480.05" y="441.20" width="1.70" height="0.45" fill="#c596fa"/><rect x="480.05" y="442.76" width="1.70" height="1.05" fill="#c596fa"/><rect x="480.05" y="443.76" width="1.70" height="0.45" fill="#c596fa"/><rect x="480.05" y="445.32" width="1.70" height="1.05" fill="#c596fa"/><rect x="480.05" y="446.32" width="1.70" height="0.45" fill="#c596fa"/><rect x="480.05" y="447.88" width="1.70" height="1.05" fill="#c596f2"/><rect x="480.05" y="448.88" width="1.70" height="0.45" fill="#c696e7"/><rect x="480.05" y="450.44" width="1.70" height="1.05" fill="#c796ca"/><rect x="480.05" y="451.44" width="1.70" height="0.45" fill="#c796bf"/>
<path d="M480.9,458.6 L476.1,450.1 L480.9,454.2 L485.6,450.1 Z" fill="#be8e5c"/>
<rect x="576.50" y="452.00" width="1.40" height="1.05" fill="#c596fa"/><rect x="576.50" y="453.00" width="1.40" height="0.35" fill="#c596fa"/><rect x="576.50" y="454.50" width="1.40" height="1.05" fill="#c596fa"/><rect x="576.50" y="455.50" width="1.40" height="0.35" fill="#c596fa"/><rect x="576.50" y="457.00" width="1.40" height="1.05" fill="#c596f8"/><rect x="576.50" y="458.00" width="1.40" height="0.35" fill="#c696e9"/><rect x="576.50" y="459.50" width="1.40" height="1.05" fill="#c796c0"/><rect x="576.50" y="460.50" width="1.40" height="0.35" fill="#c896b2"/>
<path d="M577.2,467.7 L572.8,459.7 L577.2,463.3 L581.7,459.7 Z" fill="#c0966c"/>
<g font-family="Liberation Sans, sans-serif" fill="#000">
<text x="124.6" y="518.6" font-size="32" text-anchor="middle">300</text>
<text x="210.1" y="518.6" font-size="32" text-anchor="middle">350</text>
<text x="295.5" y="518.6" font-size="32" text-anchor="middle">400</text>
<text x="381.0" y="518.6" font-size="32" text-anchor="middle">450</text>
<text x="466.5" y="518.6" font-size="32" text-anchor="middle">500</text>
<text x="551.9" y="518.6" font-size="32" text-anchor="middle">550</text>
<text x="637.4" y="518.6" font-size="32" text-anchor="middle">600</text>
<text x="71.6" y="363.2" font-size="32" text-anchor="end">2</text>
<text x="71.6" y="288.7" font-size="32" text-anchor="end">3</text>
<text x="71.6" y="214.2" font-size="32" text-anchor="end">4</text>
<text x="71.6" y="139.7" font-size="32" text-anchor="end">5</text>
<text x="71.6" y="65.2" font-size="32" text-anchor="end">6</text>
<path transform="translate(48.9,437.7) scale(0.015625,-0.015625)" d="M1087,0 L907,0 L907,1147 Q842,1085 736.5,1023 Q631,961 547,930 L547,1104 Q698,1175 811,1276 Q924,1377 971,1472 L1087,1472 Z"/>
<text transform="translate(382.3,577.8) scale(1.012,1)" font-size="41.5" text-anchor="middle">Temp (K)</text>
<text transform="translate(31.6,355.3) rotate(-90) scale(1.12,1)" font-size="41" stroke="#000" stroke-width="0.8" font-family="Liberation Serif, serif">κ</text>
<text transform="translate(41.8,331.6) rotate(-90)" font-size="27.8">latt</text>
<text transform="translate(31.6,282.4) rotate(-90) scale(0.98,1)" font-size="42">( W/mK)</text>
<g font-size="27.3">
<text x="119.3" y="32.9">Experimental</text>
<text x="187.9" y="66">Pristine</text>
<text x="180.2" y="98.8">Doped</text>
<text x="318.2" y="32.9">Theoretical</text>
<text x="387.2" y="65.5" font-size="27.1">fitline</text>
<path d="M317.1,57.5 H380.1" stroke="#4a4a4a" stroke-width="3.3" stroke-linecap="round"/>
<text x="387.2" y="98.8" font-size="27.1">vs</text>
<path d="M317.1,90.9 H380.1" stroke="#ea3b3f" stroke-width="3.3" stroke-linecap="round"/>
<text x="387.2" y="132.1" font-size="27.1">vs+Ceph</text>
<path d="M317.1,124.3 H380.1" stroke="#3c73e2" stroke-width="3.3" stroke-linecap="round"/>
<text x="387.2" y="165.4" font-size="27.1">vs+Ceph+fvac</text>
<path d="M317.1,157.7 H380.1" stroke="#4fb56b" stroke-width="3.3" stroke-linecap="round"/>
<text x="387.2" y="198.7" font-size="27.1">vs+Ceph+fvac+Γ</text>
<path d="M317.1,191.1 H380.1" stroke="#b46dea" stroke-width="3.3" stroke-linecap="round"/>
<text x="387.2" y="232.0" font-size="27.1">vs+Ceph+fvac+Γ+Um</text>
<path d="M317.1,224.5 H380.1" stroke="#c2941f" stroke-width="3.3" stroke-linecap="round"/>
</g>
<g font-size="21.5">
<text x="204.1" y="160.7">(41 %)</text>
<text x="316.7" y="289.9">(62 %)</text>
<text x="468.9" y="335">(34 %)</text>
</g>
</g>
<rect x="141.2" y="48.6" width="17.6" height="17.6" fill="#000"/>
<circle cx="150.2" cy="90.7" r="9.9" fill="#fe2010"/>
</svg>
</body></html>
